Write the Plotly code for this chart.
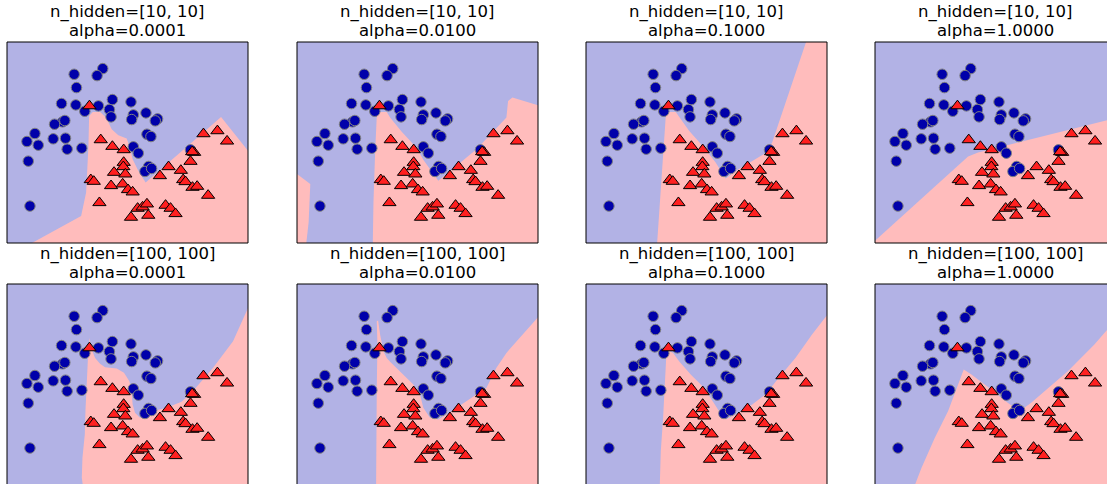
import plotly.graph_objects as go

# ---- training points of the two-moons data (feature 0, feature 1) ----
class0_x = [-0.388, 0.128, 0.026, -0.346, -0.616, -0.358, -0.196, 0.05, 0.302, 0.248,
            0.278, 0.638, 0.68, 0.65, 0.908, 1.118, 1.076, -0.598, -0.556, -0.742,
            -1.096, -1.24, -1.036, -0.766, -0.544, -0.514, -0.25, -1.216, -1.186, 0.926,
            0.998, 0.68, 0.77, 1.712, 0.956, 0.89, 1.01]
class0_y = [1.315, 1.4, 1.295, 1.115, 0.875, 0.855, 0.76, 0.84, 0.935, 0.785,
            0.675, 0.9, 0.705, 0.635, 0.735, 0.645, 0.615, 0.6, 0.62, 0.565,
            0.425, 0.305, 0.25, 0.345, 0.355, 0.19, 0.205, 0.01, -0.665, 0.415,
            0.38, 0.225, 0.13, 0.18, -0.07, -0.145, -0.1]

class1_x = [-0.112, 0.092, 0.302, 0.506, 0.506, 0.5, 0.332, 0.536, -0.088, -0.034,
            0.278, 0.488, 0.584, 0.668, 0.068, 0.758, 0.848, 0.926, 0.638, 0.95,
            1.262, 1.352, 1.442, 1.16, 1.316, 1.538, 1.58, 1.622, 1.748, 1.832,
            2.03, 1.712, 1.778, 1.742, 1.946, 2.198, 2.372]
class1_y = [0.84, 0.33, 0.23, 0.18, -0.01, -0.075, -0.16, -0.185, -0.27, -0.295,
            -0.36, -0.335, -0.42, -0.455, -0.615, -0.7, -0.68, -0.635, -0.835, -0.805,
            -0.655, -0.7, -0.78, -0.21, -0.075, -0.13, -0.27, -0.3, -0.385, -0.37,
            -0.505, 0.005, 0.14, 0.15, 0.42, 0.465, 0.31]

# ---- model settings ----
hidden_layers = ["[10, 10]", "[100, 100]"]
alphas = [0.0001, 0.01, 0.1, 1.0]

# ---- outlines of the regions predicted as class 1 ----
red_h10_a0001 = [[(-1.15, -1.22), (-0.262, -0.815), (-0.172, -0.46), (-0.13, 0.24), (-0.118, 0.69),
                  (-0.052, 0.75), (0.08, 0.75), (0.188, 0.665), (0.29, 0.49), (0.41, 0.4),
                  (0.56, 0.35), (0.62, 0.215), (0.668, 0.04), (0.77, -0.135), (0.902, -0.31),
                  (2.264, 0.675), (2.75, 0.165), (2.75, -1.22)]]
red_h10_a0100 = [[(-1.6, -0.185), (-1.36, -0.335), (-1.39, -0.91), (-1.432, -1.22), (-1.6, -1.22)],
                 [(-0.232, -1.22), (-0.22, -0.61), (-0.19, 0.14), (-0.16, 0.69), (-0.13, 0.75),
                  (0.02, 0.75), (0.08, 0.665), (0.29, 0.45), (0.47, 0.29), (0.59, 0.165),
                  (0.68, 0.03), (0.95, -0.285), (1.28, -0.06), (1.64, 0.19), (2.18, 0.665),
                  (2.21, 0.915), (2.288, 0.965), (2.75, 0.85), (2.75, -1.22)]]
red_h10_a1000 = [[(-0.316, -1.22), (-0.238, -0.26), (-0.16, 0.69), (-0.1, 0.75), (0.02, 0.75),
                  (0.26, 0.465), (0.53, 0.215), (0.74, -0.01), (0.92, -0.25), (1.16, -0.11),
                  (1.64, 0.13), (1.76, 0.29), (2.372, 1.8), (2.75, 1.8), (2.75, -1.22)]]
red_h10_a1 = [[(-1.6, -1.185), (0.08, 0.08), (0.26, 0.14), (2.75, 0.66), (2.75, -1.22), (-1.6, -1.22)]]
red_h100_a0001 = [[(-0.232, -1.22), (-0.25, -1.11), (-0.238, -0.81), (-0.196, -0.46), (-0.184, -0.11),
                   (-0.16, 0.39), (-0.136, 0.74), (-0.112, 0.99), (-0.07, 0.815), (-0.01, 0.69),
                   (0.08, 0.6), (0.17, 0.55), (0.38, 0.53), (0.512, 0.465), (0.608, 0.34),
                   (0.65, 0.19), (0.668, -0.01), (0.71, -0.135), (0.8, -0.21), (0.92, -0.2),
                   (1.04, -0.11), (1.28, -0.06), (1.55, 0.03), (1.73, 0.165), (1.88, 0.315),
                   (2.12, 0.54), (2.48, 0.94), (2.69, 1.34), (2.75, 1.44), (2.75, -1.22)]]
red_h100_a0100 = [[(-0.172, -1.22), (-0.172, -0.36), (-0.16, 0.24), (-0.148, 0.89), (-0.16, 1.24),
                   (-0.136, 1.25), (-0.1, 1.04), (-0.04, 0.79), (0.02, 0.69), (0.08, 0.63),
                   (0.26, 0.49), (0.5, 0.29), (0.62, 0.14), (0.68, -0.06), (0.8, -0.21),
                   (0.95, -0.235), (1.1, -0.16), (1.28, -0.06), (1.64, 0.14), (1.82, 0.24),
                   (2.0, 0.54), (2.18, 0.765), (2.75, 1.3), (2.75, -1.22)]]
red_h100_a1000 = [[(-0.268, -1.22), (-0.25, -0.71), (-0.208, -0.21), (-0.172, 0.39), (-0.148, 0.765),
                   (-0.118, 0.8), (-0.028, 0.765), (0.08, 0.64), (0.29, 0.44), (0.53, 0.24),
                   (0.68, 0.04), (0.8, -0.11), (0.92, -0.235), (1.1, -0.16), (1.4, -0.01),
                   (1.64, 0.14), (1.88, 0.39), (2.18, 0.69), (2.48, 1.04), (2.75, 1.33),
                   (2.75, -1.22)]]
red_h100_a1 = [[(-0.88, -1.22), (-0.76, -0.96), (-0.52, -0.51), (-0.28, -0.11), (-0.1, 0.29),
                (0.002, 0.515), (0.14, 0.44), (0.5, 0.215), (0.74, 0.05), (0.92, -0.06),
                (1.052, -0.085), (1.22, 0.015), (1.46, 0.19), (1.88, 0.49), (2.36, 0.89),
                (2.75, 1.265), (2.75, -1.22)]]

region_rows = [
    [red_h10_a0001, red_h10_a0100, red_h10_a1000, red_h10_a1],
    [red_h100_a0001, red_h100_a0100, red_h100_a1000, red_h100_a1],
]

# ---- styling ----
BLUE_BG = "#b2b2e5"
RED_BG = "#ffbcbc"
BLUE_PT = "#0000aa"
RED_PT = "#ff2020"
FONT = "DejaVu Sans"

W, H = 1107, 484
col_px = [(7, 248), (297, 538), (586, 827), (875, 1116)]
row_px = [(42, 243), (284, 485)]
X_RANGE = (-1.6, 2.75)
Y_RANGE = (-1.22, 1.8)

fig = go.Figure()
layout = dict(
    width=W, height=H,
    margin=dict(l=0, r=0, t=0, b=0),
    paper_bgcolor="white",
    plot_bgcolor=BLUE_BG,
    showlegend=False,
    shapes=[], annotations=[],
)

idx = 0
for r, (top, bottom) in enumerate(row_px):
    for c, (left, right) in enumerate(col_px):
        idx += 1
        sfx = "" if idx == 1 else str(idx)
        xa, ya = "x" + sfx, "y" + sfx

        # visible part of the panel (the figure edge cuts the last column / last row)
        vis_right = min(right, W)
        vis_bottom = min(bottom, H)
        px_w = right - left
        px_h = bottom - top
        xspan = X_RANGE[1] - X_RANGE[0]
        yspan = Y_RANGE[1] - Y_RANGE[0]
        x_hi = X_RANGE[0] + xspan * (vis_right - left) / px_w
        y_lo = Y_RANGE[1] - yspan * (vis_bottom - top) / px_h

        layout["xaxis" + sfx] = dict(
            domain=[left / W, vis_right / W], range=[X_RANGE[0], x_hi],
            showgrid=False, zeroline=False, showticklabels=False, ticks="",
            anchor=ya, fixedrange=True,
        )
        layout["yaxis" + sfx] = dict(
            domain=[1 - vis_bottom / H, 1 - top / H], range=[y_lo, Y_RANGE[1]],
            showgrid=False, zeroline=False, showticklabels=False, ticks="",
            anchor=xa, fixedrange=True,
        )

        # class-1 decision region
        for poly in region_rows[r][c]:
            fig.add_trace(go.Scatter(
                x=[p[0] for p in poly] + [poly[0][0]],
                y=[p[1] for p in poly] + [poly[0][1]],
                mode="lines", fill="toself", fillcolor=RED_BG,
                line=dict(width=0, color=RED_BG),
                xaxis=xa, yaxis=ya, hoverinfo="skip",
            ))

        # training data
        fig.add_trace(go.Scatter(
            x=class0_x, y=class0_y, mode="markers",
            marker=dict(symbol="circle", size=10.5, color=BLUE_PT,
                        line=dict(color="grey", width=1)),
            xaxis=xa, yaxis=ya,
        ))
        fig.add_trace(go.Scatter(
            x=class1_x, y=class1_y, mode="markers",
            marker=dict(symbol="triangle-up", size=11.5, color=RED_PT,
                        line=dict(color="black", width=1)),
            xaxis=xa, yaxis=ya,
        ))

        # panel frame
        layout["shapes"].append(dict(
            type="rect", xref=xa + " domain", yref=ya + " domain",
            x0=0, x1=(right - left) / (vis_right - left),
            y0=-(bottom - vis_bottom) / (vis_bottom - top), y1=1,
            line=dict(color="black", width=1), layer="above",
        ))

        # two-line title
        cx = (left + right) / 2 / W
        lines = [f"n_hidden={hidden_layers[r]}", f"alpha={alphas[c]:.4f}"]
        for k, txt in enumerate(lines):
            ypix = top - 30 + 18 * k
            layout["annotations"].append(dict(
                text=txt, x=cx, y=1 - ypix / H, xref="paper", yref="paper",
                xanchor="center", yanchor="middle", showarrow=False,
                font=dict(family=FONT, size=16.5, color="black"),
            ))

fig.update_layout(**layout)
fig.write_html("out.html")
